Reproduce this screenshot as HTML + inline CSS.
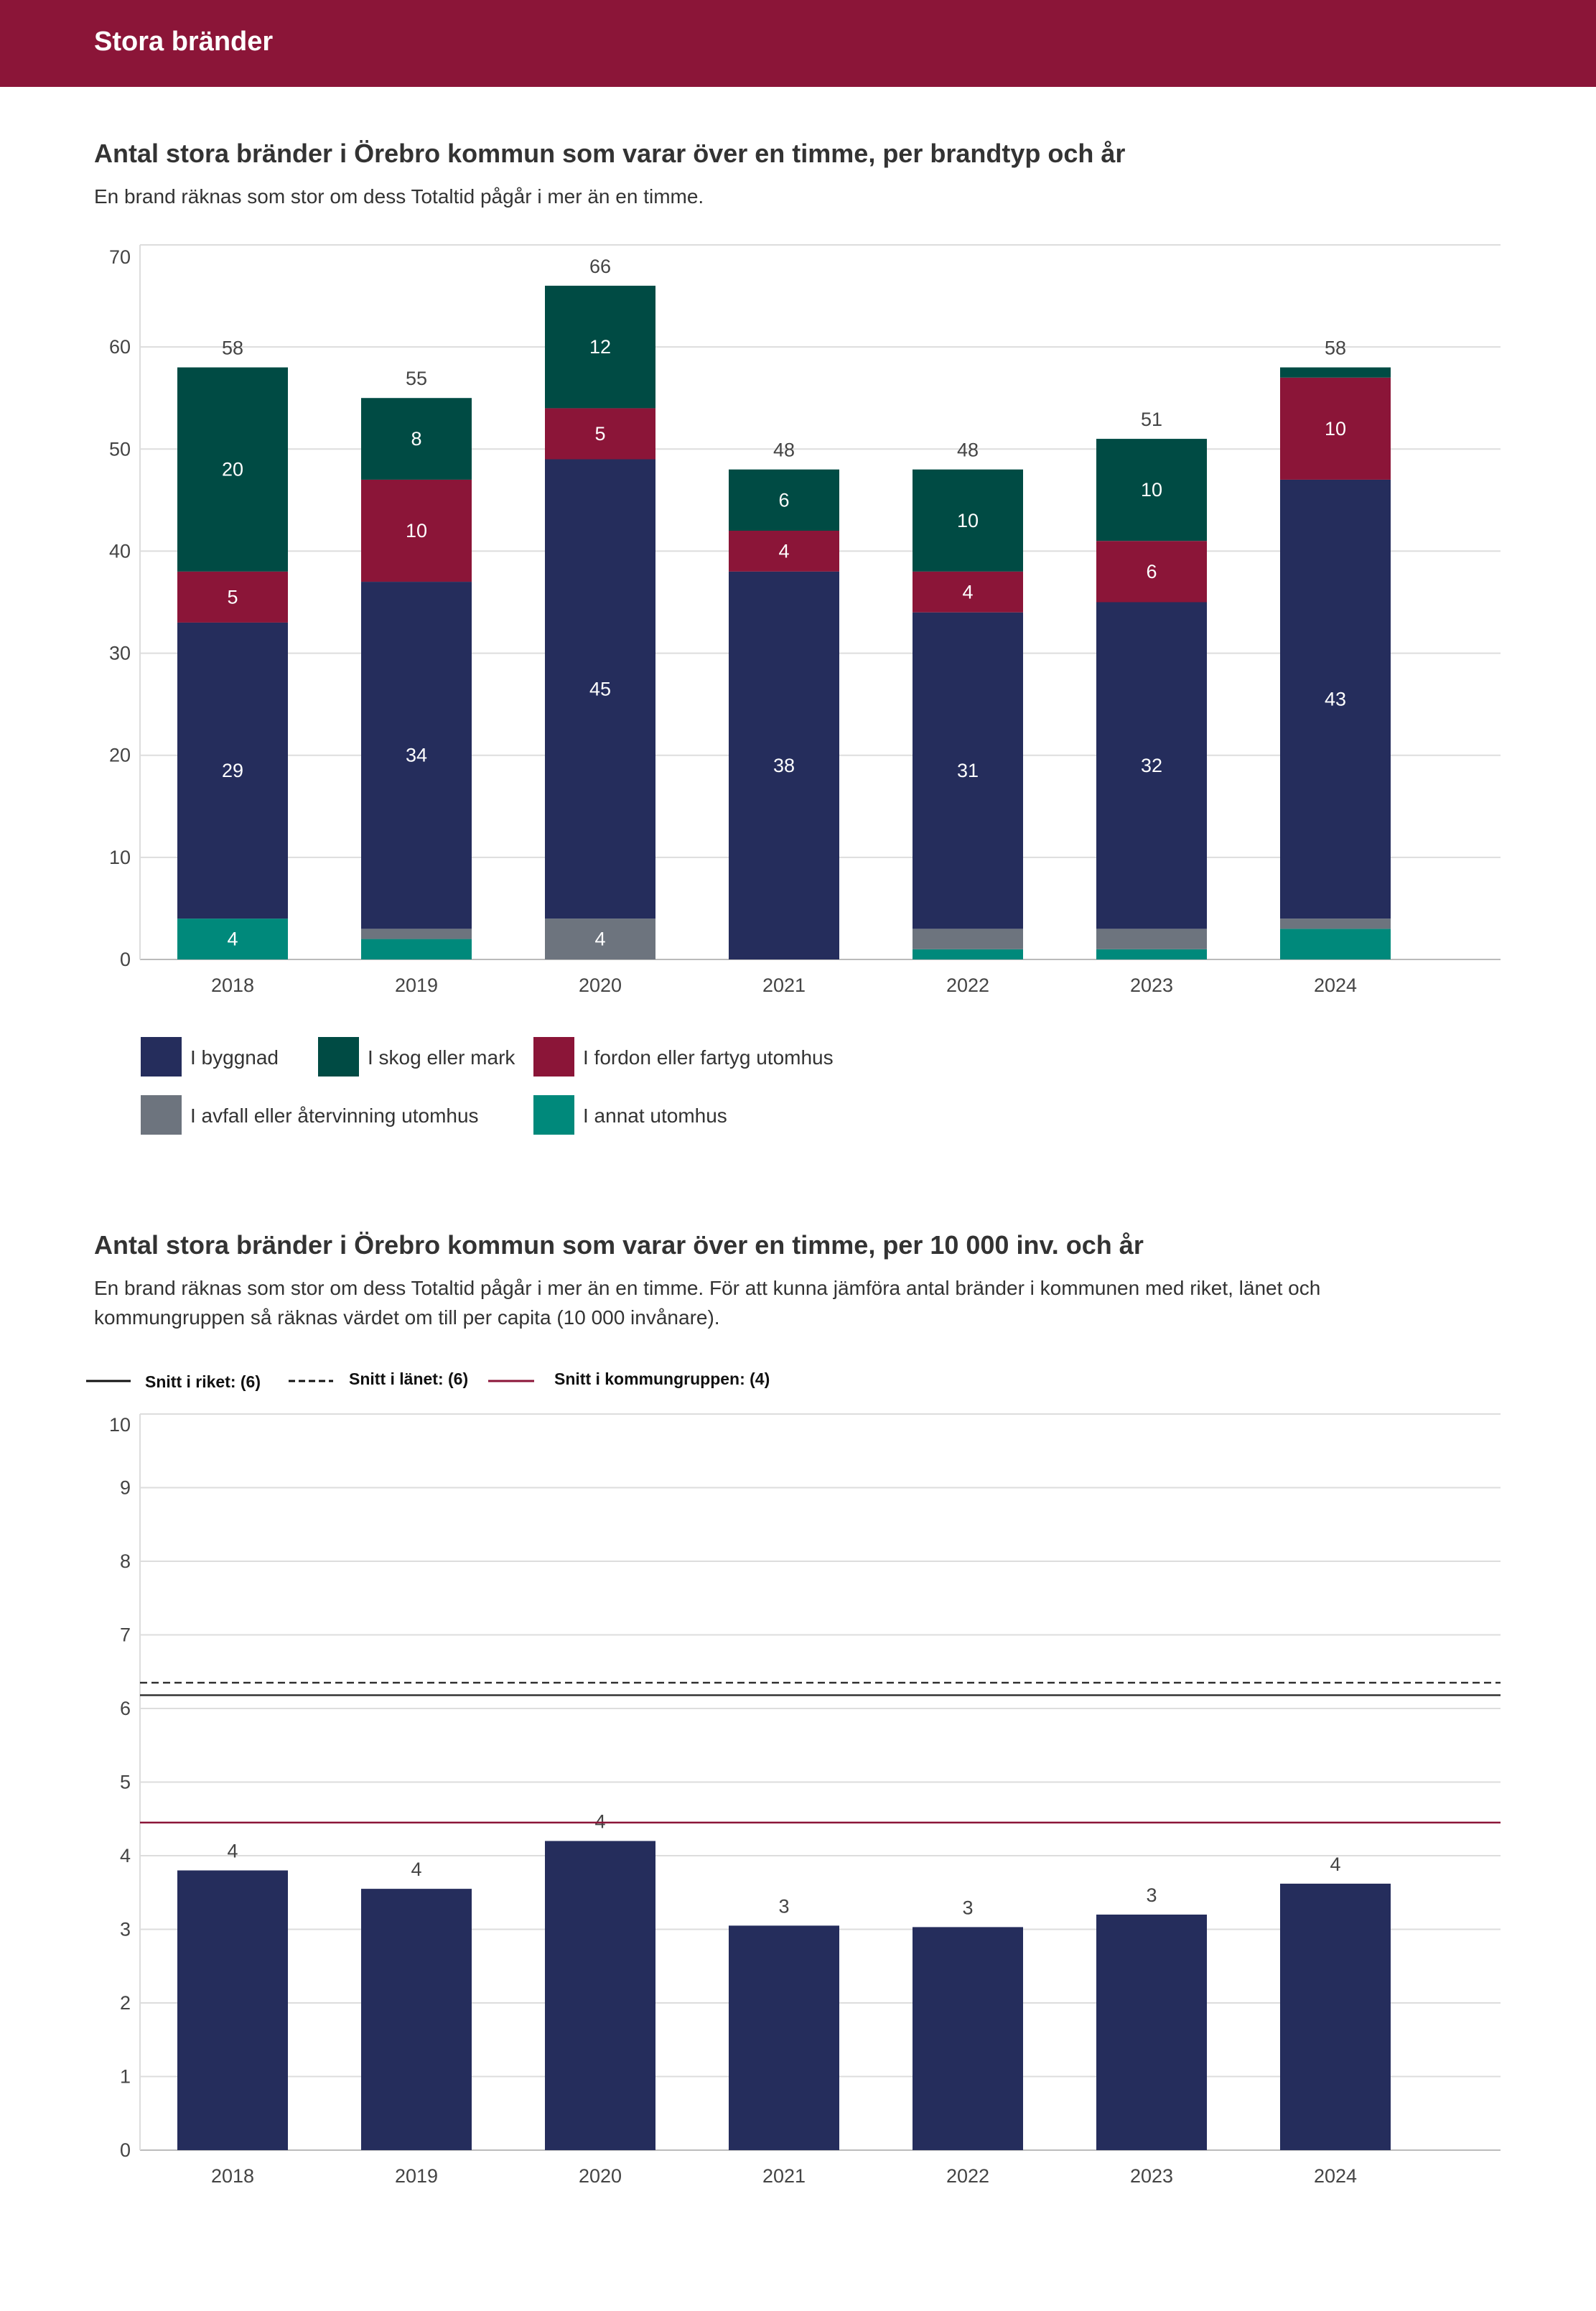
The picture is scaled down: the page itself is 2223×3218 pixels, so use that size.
<!DOCTYPE html>
<html><head><meta charset="utf-8"><style>
body{margin:0;width:2223px;height:3213px;background:#fff;font-family:"Liberation Sans",sans-serif;overflow:hidden}
svg text{font-family:"Liberation Sans",sans-serif}
</style></head><body>
<svg id="s" width="2223" height="3213" xmlns="http://www.w3.org/2000/svg">
<rect x="0" y="0" width="2223" height="121" fill="#8b1538"/>
<text x="131" y="70" font-size="38" font-weight="bold" fill="#fff">Stora bränder</text>
<text x="131" y="226" font-size="36" font-weight="bold" fill="#333">Antal stora bränder i Örebro kommun som varar över en timme, per brandtyp och år</text>
<text x="131" y="283" font-size="28" fill="#333">En brand räknas som stor om dess Totaltid pågår i mer än en timme.</text>
<g id="c1"></g>
<g id="l1"></g>
<text x="131" y="1746" font-size="36" font-weight="bold" fill="#333">Antal stora bränder i Örebro kommun som varar över en timme, per 10 000 inv. och år</text>
<text x="131" y="1803" font-size="28" fill="#333">En brand räknas som stor om dess Totaltid pågår i mer än en timme. För att kunna jämföra antal bränder i kommunen med riket, länet och</text>
<text x="131" y="1844" font-size="28" fill="#333">kommungruppen så räknas värdet om till per capita (10 000 invånare).</text>
<g>
<line x1="120" y1="1923" x2="182" y2="1923" stroke="#111" stroke-width="3"/>
<text x="202" y="1932" font-size="23" font-weight="bold" fill="#111">Snitt i riket: (6)</text>
<line x1="402" y1="1923" x2="464" y2="1923" stroke="#111" stroke-width="3" stroke-dasharray="9,5"/>
<text x="486" y="1928" font-size="23" font-weight="bold" fill="#111">Snitt i länet: (6)</text>
<line x1="680" y1="1923" x2="744" y2="1923" stroke="#8b1538" stroke-width="3"/>
<text x="772" y="1928" font-size="23" font-weight="bold" fill="#111">Snitt i kommungruppen: (4)</text>
</g>
<g id="c2"></g>
</svg>
<script>
const years=["2018","2019","2020","2021","2022","2023","2024"];
const annat=[4,2,0,0,1,1,3];
const avfall=[0,1,4,0,2,2,1];
const byggnad=[29,34,45,38,31,32,43];
const fordon=[5,10,5,4,4,6,10];
const skog=[20,8,12,6,10,10,1];
const ticks1=[0,10,20,30,40,50,60,70];
const perCapita=[3.8,3.55,4.2,3.05,3.03,3.2,3.62];
const ticks2=[0,1,2,3,4,5,6,7,8,9,10];
const snittRiket=6.18, snittLanet=6.35, snittKommungrupp=4.45;

const NS="http://www.w3.org/2000/svg";
function mk(t,a,p){const e=document.createElementNS(NS,t);for(const k in a)e.setAttribute(k,a[k]);p.appendChild(e);return e;}
const L=195,R=2090,step=256,bw=154;
const xc=i=>324+i*step;
// chart 1
const c1=document.getElementById('c1');
const y1=v=>1336-v*(995/70);
ticks1.forEach(t=>{
 const g=mk('line',{x1:L,x2:R,y1:y1(t),y2:y1(t),stroke:t===0?'#bbb':'#ddd','stroke-width':2},c1);
 
 
 const tx=mk('text',{x:182,y:y1(t)+(t===70?26:9),'font-size':27,fill:'#444','text-anchor':'end'},c1);tx.textContent=t;
 
 
});
mk('line',{x1:L,x2:L,y1:y1(70),y2:y1(0),stroke:'#ddd','stroke-width':2},c1);
const series=[[annat,'#00897b','annat'],[avfall,'#6d747e','avfall'],[byggnad,'#252d5c','byggnad'],[fordon,'#8b1538','fordon'],[skog,'#004b44','skog']];
years.forEach((yr,i)=>{
 let base=0;
 series.forEach(([arr,col,nm])=>{
  const v=arr[i];if(!v)return;
  const r=mk('rect',{x:xc(i)-bw/2,y:y1(base+v),width:bw,height:y1(base)-y1(base+v),fill:col},c1);
  
  
  if(v>=4){const t=mk('text',{x:xc(i),y:(y1(base)+y1(base+v))/2+9,'font-size':27,fill:'#fff','text-anchor':'middle'},c1);t.textContent=v;
   
   }
  base+=v;
 });
 const tt=mk('text',{x:xc(i),y:y1(base)-18,'font-size':27,fill:'#444','text-anchor':'middle'},c1);tt.textContent=base;
 
 
 const xl=mk('text',{x:xc(i),y:1381,'font-size':27,fill:'#444','text-anchor':'middle'},c1);xl.textContent=yr;
 
 
});
// legend 1
const l1=document.getElementById('l1');
const leg=[['I byggnad','#252d5c',196,1444],['I skog eller mark','#004b44',443,1444],['I fordon eller fartyg utomhus','#8b1538',743,1444],['I avfall eller återvinning utomhus','#6d747e',196,1525],['I annat utomhus','#00897b',743,1525]];
leg.forEach(([t,c,x,y])=>{
 const r=mk('rect',{x:x,y:y,width:57,height:55,fill:c},l1);
 
 
 const tx=mk('text',{x:x+69,y:y+38,'font-size':28,fill:'#333'},l1);tx.textContent=t;
 
 
});
// chart 2
const c2=document.getElementById('c2');
const y2=v=>2994-v*102.5;
ticks2.forEach(t=>{
 const g=mk('line',{x1:L,x2:R,y1:y2(t),y2:y2(t),stroke:t===0?'#bbb':'#ddd','stroke-width':2},c2);
 
 
 const tx=mk('text',{x:182,y:y2(t)+(t===10?24:9),'font-size':27,fill:'#444','text-anchor':'end'},c2);tx.textContent=t;
 
 
});
mk('line',{x1:L,x2:L,y1:y2(10),y2:y2(0),stroke:'#ddd','stroke-width':2},c2);
years.forEach((yr,i)=>{
 const v=perCapita[i];
 const r=mk('rect',{x:xc(i)-bw/2,y:y2(v),width:bw,height:y2(0)-y2(v),fill:'#252d5c'},c2);
 
 
 const t=mk('text',{x:xc(i),y:y2(v)-18,'font-size':27,fill:'#444','text-anchor':'middle'},c2);t.textContent=Math.round(v);
 
 
 const xl=mk('text',{x:xc(i),y:3039,'font-size':27,fill:'#444','text-anchor':'middle'},c2);xl.textContent=yr;
 
 
});
const a=mk('line',{x1:L,x2:R,y1:y2(snittLanet),y2:y2(snittLanet),stroke:'#333','stroke-width':2.5,'stroke-dasharray':'10,6'},c2);


const b=mk('line',{x1:L,x2:R,y1:y2(snittRiket),y2:y2(snittRiket),stroke:'#333','stroke-width':2.5},c2);


const c=mk('line',{x1:L,x2:R,y1:y2(snittKommungrupp),y2:y2(snittKommungrupp),stroke:'#8b1538','stroke-width':2.5},c2);


</script>
</body></html>
